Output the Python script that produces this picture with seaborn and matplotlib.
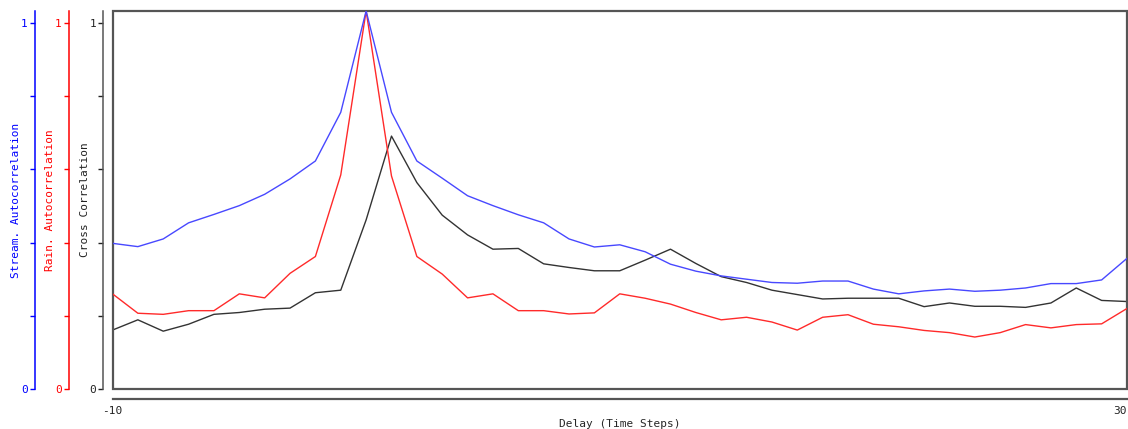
import matplotlib
matplotlib.use("Agg")
import matplotlib.pyplot as plt
from matplotlib.patches import Rectangle
import seaborn as sns

# Delay (time steps) and the three correlation series
lags = list(range(-10, 31))

stream_auto = [0.398, 0.389, 0.410, 0.454, 0.477, 0.501, 0.532, 0.574, 0.623, 0.756,
               1.033,
               0.756, 0.623, 0.576, 0.528, 0.501, 0.476, 0.454, 0.410, 0.388, 0.394,
               0.375, 0.341, 0.322, 0.309, 0.300, 0.291, 0.289, 0.295, 0.295, 0.273,
               0.260, 0.268, 0.273, 0.267, 0.270, 0.276, 0.288, 0.288, 0.298, 0.357]

rain_auto = [0.260, 0.207, 0.204, 0.214, 0.214, 0.260, 0.249, 0.316, 0.362, 0.585,
             1.033,
             0.582, 0.362, 0.314, 0.249, 0.260, 0.214, 0.214, 0.205, 0.208, 0.260,
             0.248, 0.232, 0.209, 0.189, 0.196, 0.183, 0.161, 0.196, 0.203, 0.177,
             0.170, 0.160, 0.154, 0.142, 0.154, 0.176, 0.167, 0.176, 0.178, 0.220]

cross_corr = [0.161, 0.189, 0.158, 0.177, 0.204, 0.209, 0.218, 0.221, 0.263, 0.270,
              0.462,
              0.691, 0.564, 0.475, 0.421, 0.382, 0.384, 0.342, 0.332, 0.323, 0.323,
              0.352, 0.382, 0.343, 0.307, 0.291, 0.270, 0.258, 0.246, 0.248, 0.248,
              0.248, 0.225, 0.235, 0.226, 0.226, 0.223, 0.235, 0.276, 0.242, 0.239]

y_ticks = [0, 0.2, 0.4, 0.6, 0.8, 1.0]
y_tick_labels = ["0", "", "", "", "", "1"]
x_ticks = [-10, 0, 10, 20, 30]
x_tick_labels = ["-10", "", "", "", "30"]

sns.set_style("white")
plt.rcParams["font.family"] = ["DejaVu Sans Mono"]
plt.rcParams["font.size"] = 8

AX_GRAY = "#555555"
BLUE_AX, BLUE_LN = "#0000ff", "#4848ff"
RED_AX, RED_LN = "#ff0000", "#ff2a2a"
BLACK_LN = "#333333"

fig = plt.figure(figsize=(11.28, 4.29), dpi=100)
ax = fig.add_axes([112.5 / 1128, 40 / 429, (1127 - 112.5) / 1128, 378 / 429])
ax_red = ax.twinx()
ax_blue = ax.twinx()

y_max = 378 / 366

def style_y(a, offset, color, label):
    for side in ("top", "right", "bottom"):
        a.spines[side].set_visible(False)
    a.spines["left"].set_visible(True)
    a.spines["left"].set_position(("outward", offset))
    a.spines["left"].set_color(color)
    a.spines["left"].set_linewidth(1.1)
    a.yaxis.set_ticks_position("left")
    a.yaxis.set_label_position("left")
    a.set_ylim(0, y_max)
    a.set_yticks(y_ticks)
    a.set_yticklabels(y_tick_labels)
    a.tick_params(axis="y", colors=color, length=3.6, width=1, pad=1.5,
                  labelsize=8, labelcolor=color)
    a.set_ylabel(label, color=color, fontsize=8, labelpad=0)

# lines
sns.lineplot(x=lags, y=cross_corr, ax=ax, color=BLACK_LN, linewidth=1.0)
sns.lineplot(x=lags, y=rain_auto, ax=ax_red, color=RED_LN, linewidth=1.0)
sns.lineplot(x=lags, y=stream_auto, ax=ax_blue, color=BLUE_LN, linewidth=1.0)

for a in (ax, ax_red, ax_blue):
    a.set_xlim(-10, 30)

style_y(ax, 6.5, "#222222", "Cross Correlation")
style_y(ax_red, 31.5, RED_AX, "Rain. Autocorrelation")
style_y(ax_blue, 56, BLUE_AX, "Stream. Autocorrelation")
ax.spines["left"].set_color(AX_GRAY)

# detached x axis below the plot frame
ax.spines["bottom"].set_visible(True)
ax.spines["bottom"].set_position(("outward", 7.2))
ax.spines["bottom"].set_color(AX_GRAY)
ax.spines["bottom"].set_linewidth(1.6)
ax.set_xticks(x_ticks)
ax.set_xticklabels(x_tick_labels)
ax.tick_params(axis="x", colors="#222222", length=3.6, width=1, pad=1.5,
               labelsize=8)
ax.get_xticklabels()[-1].set_horizontalalignment("right")
ax.set_xlabel("Delay (Time Steps)", fontsize=8, labelpad=2)

# plot frame
ax.add_patch(Rectangle((0, 0), 1, 1, transform=ax.transAxes, fill=False,
                       edgecolor=AX_GRAY, linewidth=1.6, clip_on=False, zorder=5))

for a in (ax_red, ax_blue):
    a.xaxis.set_visible(False)

fig.savefig("out.png", dpi=100)
